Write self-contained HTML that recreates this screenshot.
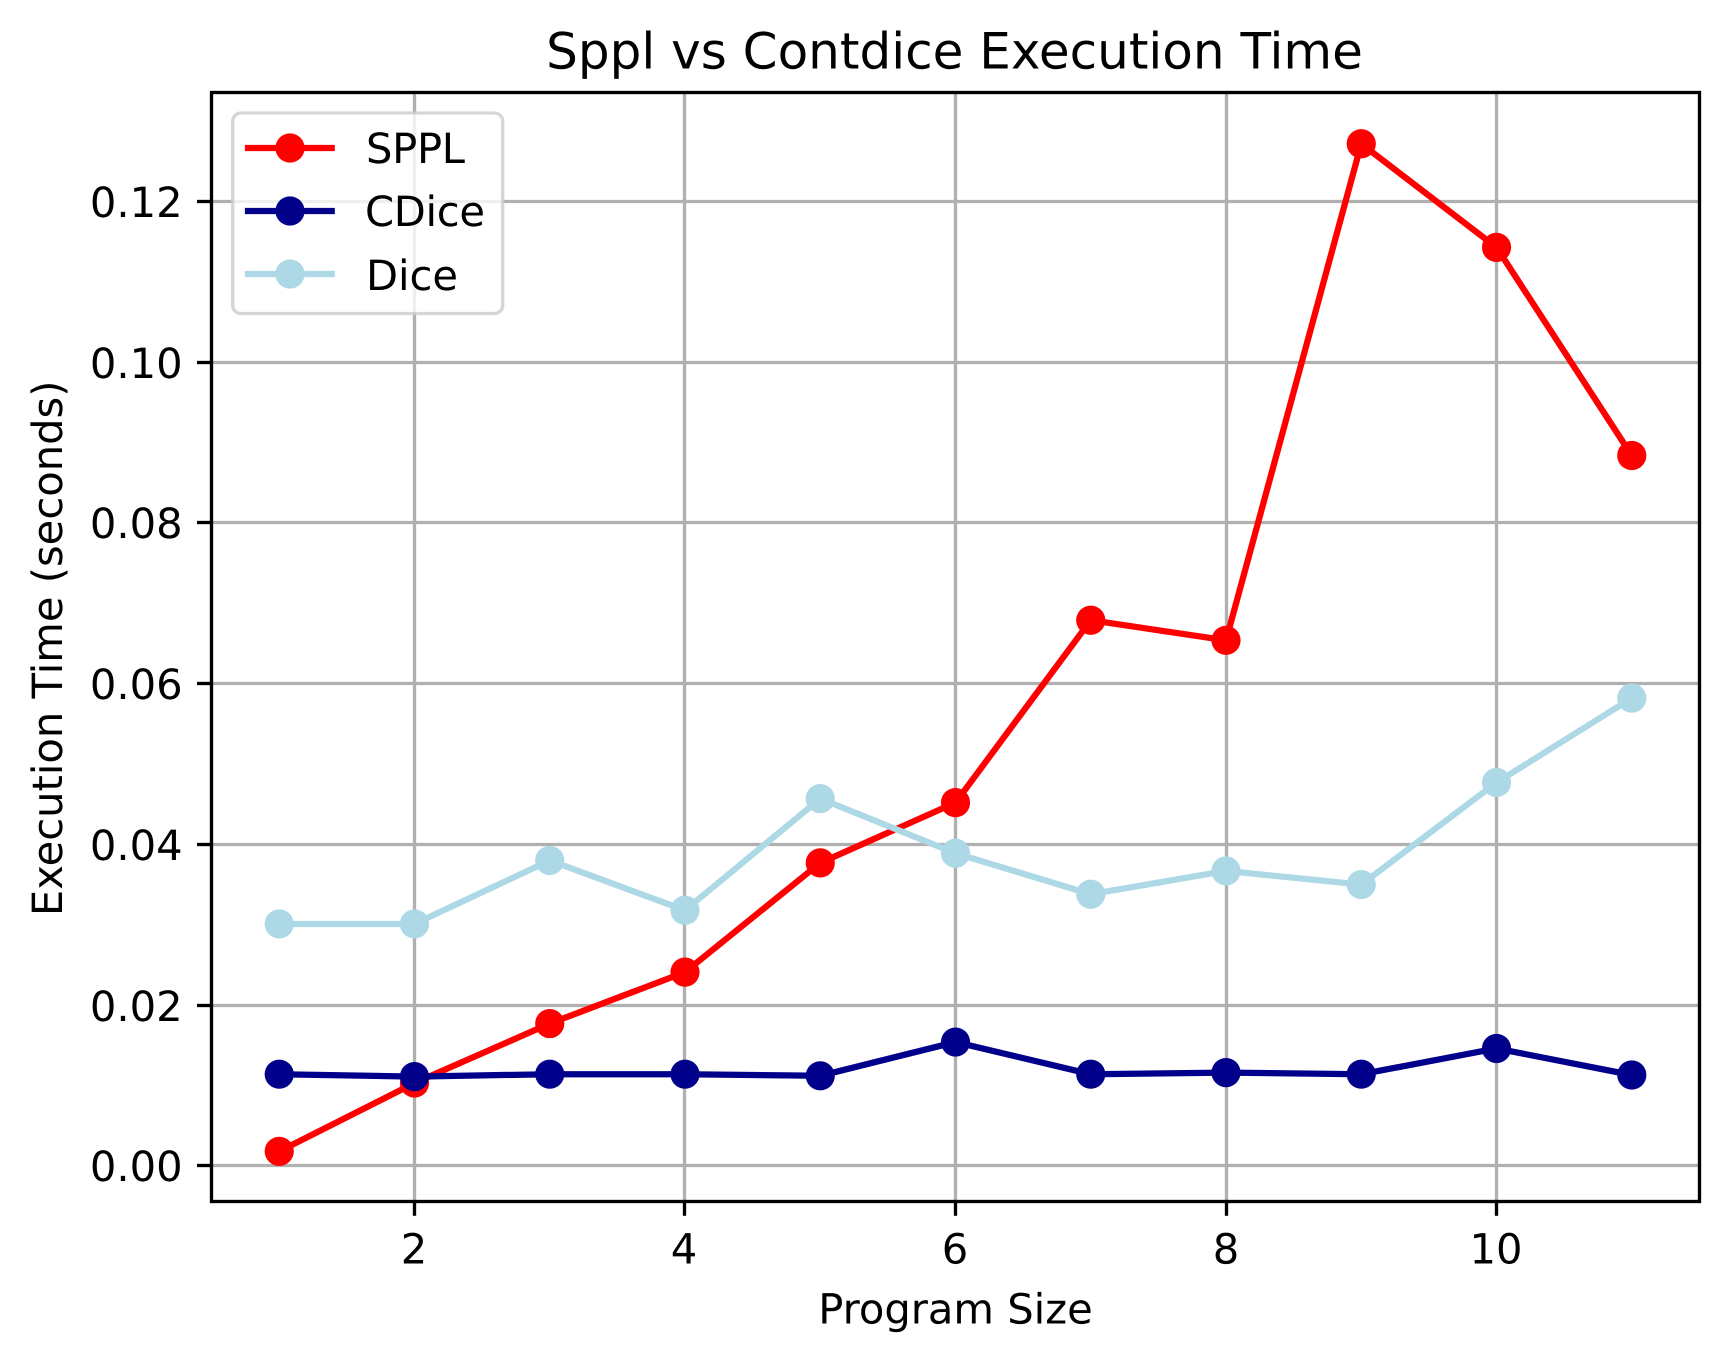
<!DOCTYPE html>
<html lang="en">
<head>
<meta charset="utf-8">
<title>Sppl vs Contdice Execution Time</title>
<style>
  html, body { margin: 0; padding: 0; background: #fff; }
  svg { display: block; }
  text { font-family: "DejaVu Sans", "Liberation Sans", sans-serif; fill: #000; text-rendering: geometricPrecision; }
</style>
</head>
<body>
<svg id="chart" xmlns="http://www.w3.org/2000/svg" width="1728" height="1361" viewBox="0 0 1728 1361">
  <rect x="0" y="0" width="1728" height="1361" fill="#ffffff"/>
  <rect x="211.5" y="92.5" width="1488" height="1109" fill="#ffffff"/>
  <g id="grid"></g>
  <g id="series"></g>
  <g id="axes"></g>
  <rect x="211.5" y="92.5" width="1488" height="1109" fill="none" stroke="#000" stroke-width="3.33"/>
  <g id="legend"></g>
  <text x="954.5" y="68.5" font-size="50" text-anchor="middle">Sppl vs Contdice Execution Time</text>
  <text x="955.5" y="1323.5" font-size="41.67" text-anchor="middle">Program Size</text>
  <text x="62" y="648.3" font-size="41.67" text-anchor="middle" transform="rotate(-90 62 648.3)">Execution Time (seconds)</text>
</svg>
<script>
const programSizes = [1, 2, 3, 4, 5, 6, 7, 8, 9, 10, 11];
const spplTimes = [0.0018, 0.0103, 0.0177, 0.0241, 0.0377, 0.0452, 0.0679, 0.0654, 0.1272, 0.1143, 0.0884];
const cdiceTimes = [0.0114, 0.0111, 0.0114, 0.0114, 0.0112, 0.0154, 0.0114, 0.0116, 0.0114, 0.0146, 0.0113];
const diceTimes = [0.0301, 0.0301, 0.0380, 0.0318, 0.0457, 0.0389, 0.0338, 0.0367, 0.0350, 0.0477, 0.0582];
const xTickValues = [2, 4, 6, 8, 10];
const xTickLabels = ['2', '4', '6', '8', '10'];
const yTickValues = [0, 0.02, 0.04, 0.06, 0.08, 0.10, 0.12];
const yTickLabels = ['0.00', '0.02', '0.04', '0.06', '0.08', '0.10', '0.12'];
const seriesNames = ['SPPL', 'CDice', 'Dice'];
const seriesColors = ['#ff0000', '#00008b', '#add8e6'];

const NS = 'http://www.w3.org/2000/svg';
const plotLeft = 211.6, plotRight = 1699.4, plotTop = 92.4, plotBottom = 1201.2;
const xMin = 0.5, xMax = 11.5;
const yMin = -0.004406, yMax = 0.13359;

function xScale(v) { return plotLeft + (v - xMin) / (xMax - xMin) * (plotRight - plotLeft); }
function yScale(v) { return plotBottom - (v - yMin) / (yMax - yMin) * (plotBottom - plotTop); }
function snap(p) { return Math.floor(p) + 0.5; }

function makeLine(parent, x1, y1, x2, y2, color, width) {
  const el = document.createElementNS(NS, 'line');
  el.setAttribute('x1', x1);
  el.setAttribute('y1', y1);
  el.setAttribute('x2', x2);
  el.setAttribute('y2', y2);
  el.setAttribute('stroke', color);
  el.setAttribute('stroke-width', width);
  parent.appendChild(el);
  return el;
}
function makeText(parent, x, y, size, anchor, content) {
  const el = document.createElementNS(NS, 'text');
  el.setAttribute('x', x);
  el.setAttribute('y', y);
  el.setAttribute('font-size', size);
  el.setAttribute('text-anchor', anchor);
  el.textContent = content;
  parent.appendChild(el);
  return el;
}
function makeCircle(parent, cx, cy, color) {
  const el = document.createElementNS(NS, 'circle');
  el.setAttribute('cx', cx);
  el.setAttribute('cy', cy);
  el.setAttribute('r', 14.6);
  el.setAttribute('fill', color);
  parent.appendChild(el);
  return el;
}

const gridLayer = document.getElementById('grid');
const axesLayer = document.getElementById('axes');
const seriesLayer = document.getElementById('series');
const legendLayer = document.getElementById('legend');

xTickValues.forEach(function (v, i) {
  const px = snap(xScale(v));
  const gridLine = makeLine(gridLayer, px, plotTop, px, plotBottom, '#b0b0b0', 3.33);
  
  
  const tick = makeLine(axesLayer, px, plotBottom, px, plotBottom + 14.6, '#000', 3.33);
  
  
  const label = makeText(axesLayer, px - 0.5, 1263.3, 41.67, 'middle', xTickLabels[i]);
  
  
});

yTickValues.forEach(function (v, i) {
  const py = snap(yScale(v));
  const gridLine = makeLine(gridLayer, plotLeft, py, plotRight, py, '#b0b0b0', 3.33);
  
  
  const tick = makeLine(axesLayer, plotLeft - 14.6, py, plotLeft, py, '#000', 3.33);
  
  
  const label = makeText(axesLayer, 182.7, py + 15.6, 41.67, 'end', yTickLabels[i]);
  
  
});

function drawSeries(values, color, name) {
  const group = document.createElementNS(NS, 'g');
  
  
  seriesLayer.appendChild(group);
  const path = document.createElementNS(NS, 'polyline');
  const pts = values.map(function (v, i) { return xScale(programSizes[i]) + ',' + yScale(v); });
  path.setAttribute('points', pts.join(' '));
  path.setAttribute('fill', 'none');
  path.setAttribute('stroke', color);
  path.setAttribute('stroke-width', 6.25);
  path.setAttribute('stroke-linejoin', 'round');
  
  
  group.appendChild(path);
  values.forEach(function (v, i) {
    const dot = makeCircle(group, xScale(programSizes[i]), yScale(v), color);
    
    
  });
}
drawSeries(spplTimes, seriesColors[0], 'sppl');
drawSeries(cdiceTimes, seriesColors[1], 'cdice');
drawSeries(diceTimes, seriesColors[2], 'dice');

const legendBox = document.createElementNS(NS, 'rect');
legendBox.setAttribute('x', 232.7);
legendBox.setAttribute('y', 113);
legendBox.setAttribute('width', 270);
legendBox.setAttribute('height', 200.5);
legendBox.setAttribute('rx', 8.3);
legendBox.setAttribute('ry', 8.3);
legendBox.setAttribute('fill', 'rgba(255,255,255,0.8)');
legendBox.setAttribute('stroke', 'rgba(204,204,204,0.8)');
legendBox.setAttribute('stroke-width', 3.33);


legendLayer.appendChild(legendBox);

const legendRowY = [148, 211, 274];
const legendTextX = [366, 365, 366];
const legendTextLength = [99, 120, 92];
const legendTextDrop = [15.2, 15.2, 15.8];
seriesNames.forEach(function (name, i) {
  const handle = makeLine(legendLayer, 248, legendRowY[i], 331.7, legendRowY[i], seriesColors[i], 6.25);
  handle.setAttribute('stroke-linecap', 'square');
  
  
  const marker = makeCircle(legendLayer, 290, legendRowY[i], seriesColors[i]);
  
  
  const label = makeText(legendLayer, legendTextX[i], legendRowY[i] + legendTextDrop[i], 41.67, 'start', name);
  label.setAttribute('textLength', legendTextLength[i]);
  label.setAttribute('lengthAdjust', 'spacing');
  
  
});
</script>
</body>
</html>
